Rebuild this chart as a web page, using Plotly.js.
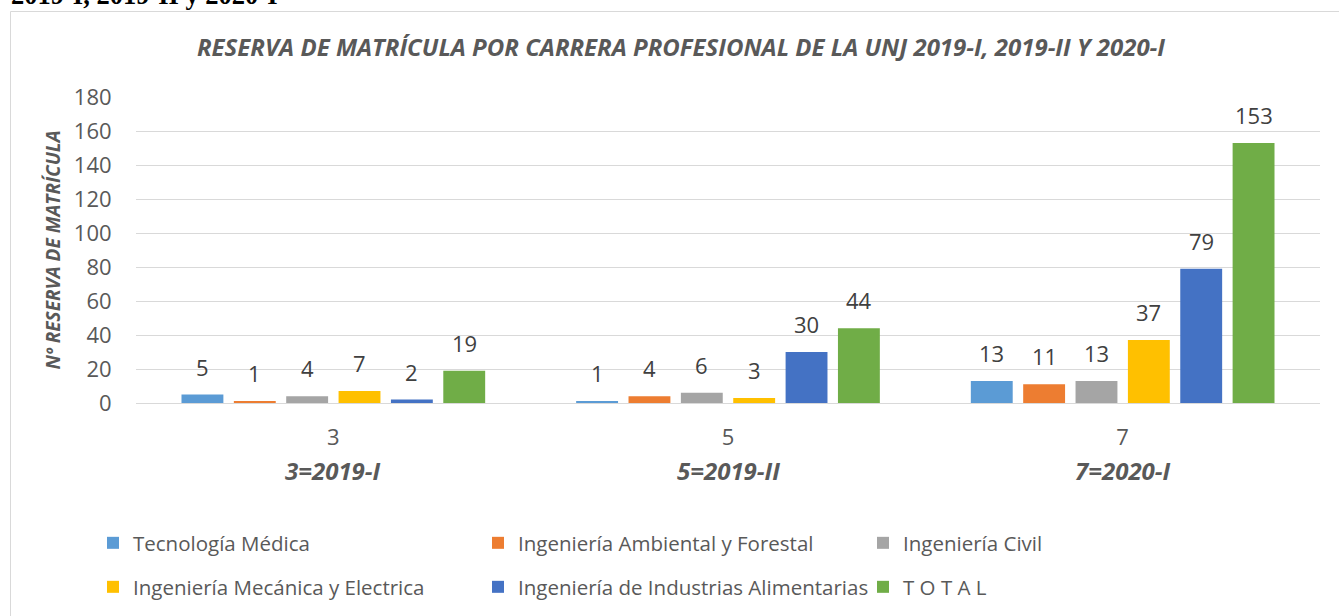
<!DOCTYPE html>
<html>
<head>
<meta charset="utf-8">
<script src="https://cdn.plot.ly/plotly-3.0.1.min.js"></script>
<style>
  html, body { margin: 0; padding: 0; background: #ffffff; }
  #chart { width: 1339px; height: 616px; }
</style>
</head>
<body>
<div id="chart"></div>
<script>
// ---- Data ----
var categories = ['3', '5', '7'];
var periodLabels = ['3=2019-I', '5=2019-II', '7=2020-I'];
var seriesNames = [
  'Tecnología Médica',
  'Ingeniería Ambiental y Forestal',
  'Ingeniería Civil',
  'Ingeniería Mecánica y Electrica',
  'Ingeniería de Industrias Alimentarias',
  'T O T A L'
];
var tecnologiaMedica = [5, 1, 13];
var ambientalForestal = [1, 4, 11];
var civil = [4, 6, 13];
var mecanicaElectrica = [7, 3, 37];
var industriasAlimentarias = [2, 30, 79];
var total = [19, 44, 153];
var seriesValues = [tecnologiaMedica, ambientalForestal, civil, mecanicaElectrica, industriasAlimentarias, total];
var colors = ['#5B9BD5', '#ED7D31', '#A5A5A5', '#FFC000', '#4472C4', '#70AD47'];
var yTickVals = [0, 20, 40, 60, 80, 100, 120, 140, 160, 180];

var chartTitle = 'RESERVA DE MATRÍCULA POR CARRERA PROFESIONAL DE LA UNJ 2019-I, 2019-II Y 2020-I';
var yTitle = 'Nº RESERVA DE MATRÍCULA';
var docHeading = '2019-I, 2019-II y 2020-I';

// ---- Layout constants ----
var W = 1339, H = 616;
var M = { l: 136, r: 19, t: 97, b: 213, autoexpand: false };
var plotW = W - M.l - M.r;
var plotH = H - M.t - M.b;
var bargap = 0.204, bargroupgap = 0.2;
var slotW = plotW / categories.length * (1 - bargap) / seriesNames.length;
var FONT = '"Open Sans", "Liberation Sans", sans-serif';
var GRAY = '#595959';

function px2paperX(px) { return (px - M.l) / plotW; }
function px2paperY(py) { return (H - M.b - py) / plotH; }

var traces = seriesNames.map(function (name, i) {
  return {
    type: 'bar',
    name: name,
    x: categories,
    y: seriesValues[i],
    marker: { color: colors[i], line: { width: 0 } },
    legend: i < 3 ? 'legend' : 'legend2',
    hoverinfo: 'name+y'
  };
});

var annotations = [];
seriesValues.forEach(function (vals, i) {
  vals.forEach(function (v, j) {
    annotations.push({
      xref: 'x', yref: 'y',
      x: j, y: v,
      xshift: (i - (seriesNames.length - 1) / 2) * slotW,
      yshift: 11,
      yanchor: 'bottom', xanchor: 'center',
      text: String(v),
      showarrow: false,
      font: { family: FONT, size: 22, color: '#404040' }
    });
  });
});
periodLabels.forEach(function (t, j) {
  annotations.push({
    xref: 'x', yref: 'paper',
    x: j, y: px2paperY(470),
    yanchor: 'middle', xanchor: 'center',
    text: '<b><i>' + t + '</i></b>',
    showarrow: false,
    font: { family: FONT, size: 24, color: GRAY }
  });
});
annotations.push({
  xref: 'paper', yref: 'paper',
  x: px2paperX(9), y: px2paperY(12),
  xanchor: 'left', yanchor: 'bottom',
  text: '<b>' + docHeading + '</b>',
  showarrow: false,
  font: { family: '"Liberation Serif", "Times New Roman", serif', size: 26.5, color: '#000000' }
});

var legendCommon = {
  orientation: 'h',
  x: px2paperX(93), xanchor: 'left',
  yanchor: 'middle',
  entrywidth: 340, entrywidthmode: 'pixels',
  font: { family: FONT, size: 20.5, color: GRAY },
  bgcolor: 'rgba(0,0,0,0)',
  traceorder: 'normal'
};

var layout = {
  width: W, height: H,
  margin: M,
  paper_bgcolor: '#ffffff',
  plot_bgcolor: '#ffffff',
  barmode: 'group',
  bargap: bargap,
  bargroupgap: bargroupgap,
  showlegend: true,
  font: { family: FONT, color: GRAY },
  title: {
    text: '<b><i>' + chartTitle + '</i></b>',
    x: 681 / W, xanchor: 'center', xref: 'container',
    y: 1 - 48 / H, yanchor: 'middle', yref: 'container',
    font: { family: FONT, size: 24, color: GRAY }
  },
  xaxis: {
    type: 'category',
    showgrid: false,
    zeroline: false,
    showline: false,
    ticks: 'outside', ticklen: 15, tickcolor: 'rgba(0,0,0,0)',
    tickfont: { family: FONT, size: 22, color: GRAY },
    fixedrange: true
  },
  yaxis: {
    range: [0, 180],
    tickvals: yTickVals,
    showgrid: true,
    gridcolor: '#D9D9D9',
    gridwidth: 1,
    zeroline: true,
    zerolinecolor: '#D9D9D9',
    zerolinewidth: 1,
    showline: false,
    ticks: 'outside', ticklen: 19, tickcolor: 'rgba(0,0,0,0)',
    tickfont: { family: FONT, size: 22, color: GRAY },
    title: {
      text: '<b><i>' + yTitle + '</i></b>',
      standoff: 8,
      font: { family: FONT, size: 19, color: GRAY }
    },
    fixedrange: true
  },
  legend: Object.assign({}, legendCommon, { y: px2paperY(543) }),
  legend2: Object.assign({}, legendCommon, { y: px2paperY(587) }),
  shapes: [{
    type: 'rect', xref: 'paper', yref: 'paper',
    x0: px2paperX(10.5), x1: px2paperX(1360),
    y0: px2paperY(700), y1: px2paperY(11.5),
    line: { color: '#D9D9D9', width: 1 },
    fillcolor: 'rgba(0,0,0,0)',
    layer: 'below'
  }],
  annotations: annotations
};

Plotly.newPlot('chart', traces, layout, { displayModeBar: false, staticPlot: false });
</script>
</body>
</html>
